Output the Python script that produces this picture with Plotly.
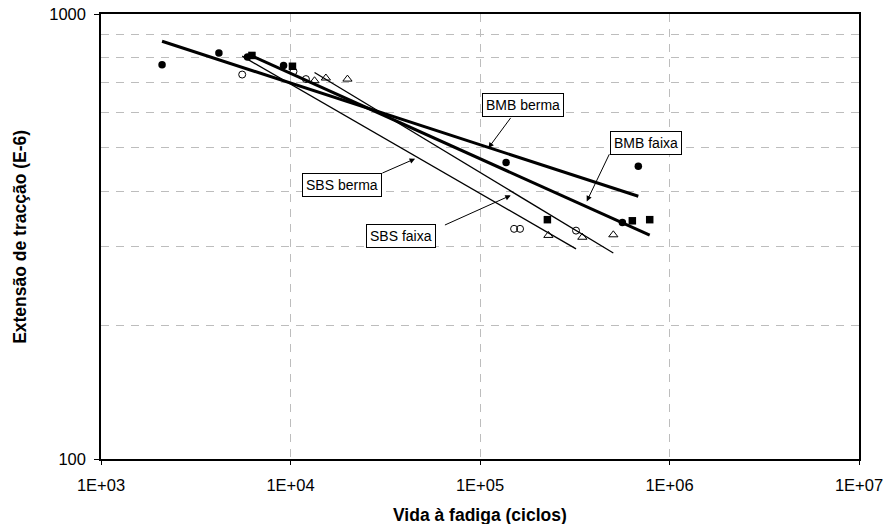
import numpy as np
import plotly.graph_objects as go

# ---- data ----
bmb_berma_x = [2100, 4190, 5930, 9190, 137300, 564000, 684600]
bmb_berma_y = [769, 817, 800, 766, 464, 340, 455]

bmb_faixa_x = [6260, 10240, 226800, 636600, 786300]
bmb_faixa_y = [807, 763, 345, 343, 345]

sbs_berma_x = [5560, 10370, 12060, 151300, 162700, 321200]
sbs_berma_y = [731, 743, 714, 329, 329, 326]

sbs_faixa_x = [13390, 15370, 19980, 229500, 346700, 505300]
sbs_faixa_y = [708, 718, 714, 318, 315, 319]

x_tickvals = [1e3, 1e4, 1e5, 1e6, 1e7]
x_ticktext = ["1E+03", "1E+04", "1E+05", "1E+06", "1E+07"]
y_tickvals = [100, 1000]
y_ticktext = ["100", "1000"]
y_gridvals = [200, 300, 400, 500, 600, 700, 800, 900]

FONT = "Liberation Sans, Arial, sans-serif"

fig = go.Figure()

series = [
    ("BMB berma", bmb_berma_x, bmb_berma_y,
     dict(symbol="circle", size=7.5, color="black", line=dict(width=0)), 3),
    ("BMB faixa", bmb_faixa_x, bmb_faixa_y,
     dict(symbol="square", size=7.5, color="black", line=dict(width=0)), 3),
    ("SBS berma", sbs_berma_x, sbs_berma_y,
     dict(symbol="circle-open", size=7, color="black", line=dict(width=1)), 1.3),
    ("SBS faixa", sbs_faixa_x, sbs_faixa_y,
     dict(symbol="triangle-up-open", size=8, color="black", line=dict(width=1)), 1.3),
]

# power-law trendlines (least squares in log-log space), drawn over data range
for name, xs, ys, marker, lw in series:
    lx = np.log10(xs)
    ly = np.log10(ys)
    b, a = np.polyfit(lx, ly, 1)
    xr = np.array([min(xs), max(xs)], dtype=float)
    yr = 10 ** (a + b * np.log10(xr))
    fig.add_trace(go.Scatter(x=xr, y=yr, mode="lines",
                             line=dict(color="black", width=lw),
                             showlegend=False, hoverinfo="skip"))

for name, xs, ys, marker, lw in series:
    fig.add_trace(go.Scatter(x=xs, y=ys, mode="markers", name=name,
                             marker=marker, showlegend=False))

# ---- label boxes and arrows (positions in log10 axis units) ----
labels = [
    ("BMB berma", 5.2247, 2.7950),
    ("BMB faixa", 5.8780, 2.7092),
    ("SBS berma", 4.2711, 2.6164),
    ("SBS faixa", 4.5807, 2.5009),
]
arrows = [  # tail (x, y) -> tip (x, y)
    (5.1677, 2.7699, 5.0443, 2.6989),
    (5.6862, 2.6883, 5.5633, 2.5789),
    (4.4768, 2.6411, 4.6577, 2.6748),
    (4.8070, 2.5243, 5.1624, 2.5924),
]
for tx, ty, hx, hy in arrows:
    fig.add_annotation(x=hx, y=hy, ax=tx, ay=ty, xref="x", yref="y",
                       axref="x", ayref="y", text="", showarrow=True,
                       arrowhead=2, arrowsize=1.1, arrowwidth=1,
                       arrowcolor="black")
for text, cx, cy in labels:
    fig.add_annotation(x=cx, y=cy, xref="x", yref="y", text=text,
                       showarrow=False, xanchor="center", yanchor="middle",
                       font=dict(family=FONT, size=14, color="black"),
                       bgcolor="white", bordercolor="black", borderwidth=1,
                       borderpad=3)

# axis titles
fig.add_annotation(x=0.5, y=-0.125, xref="paper", yref="paper",
                   text="<b>Vida à fadiga (ciclos)</b>", showarrow=False,
                   xanchor="center", yanchor="middle",
                   font=dict(family=FONT, size=17.5, color="black"))
fig.add_annotation(x=-0.1077, y=0.5, xref="paper", yref="paper",
                   text="<b>Extensão de tracção (E-6)</b>", showarrow=False,
                   textangle=-90, xanchor="center", yanchor="middle",
                   font=dict(family=FONT, size=17.5, color="black"))

GRID = "#bdbdbd"
fig.update_layout(
    width=885, height=524,
    margin=dict(l=101, r=26, t=14, b=65, autoexpand=False),
    paper_bgcolor="white", plot_bgcolor="white",
    font=dict(family=FONT, color="black"),
    xaxis=dict(type="log", range=[3, 7], tickvals=x_tickvals, ticktext=x_ticktext,
               showgrid=True, gridcolor=GRID, griddash="8px,7px", gridwidth=1,
               showline=True, linecolor="black", linewidth=1.5, mirror=True,
               ticks="outside", ticklen=4, tickcolor="black", automargin=False,
               ticklabelstandoff=6,
               tickfont=dict(family=FONT, size=16.5), zeroline=False),
    yaxis=dict(type="log", range=[2, 3], tickvals=y_tickvals, ticktext=y_ticktext,
               showgrid=False,
               minor=dict(tickvals=y_gridvals, showgrid=True, gridcolor=GRID,
                          griddash="8px,7px", gridwidth=1, ticks=""),
               showline=True, linecolor="black", linewidth=1.5, mirror=True,
               ticks="outside", ticklen=5, tickcolor="black", automargin=False,
               ticklabelstandoff=5,
               tickfont=dict(family=FONT, size=16.5), zeroline=False),
)

fig.write_html("out.html", config={"displayModeBar": False},
               post_script="document.body.style.margin='0px';"
                           "document.body.style.overflow='hidden';")
